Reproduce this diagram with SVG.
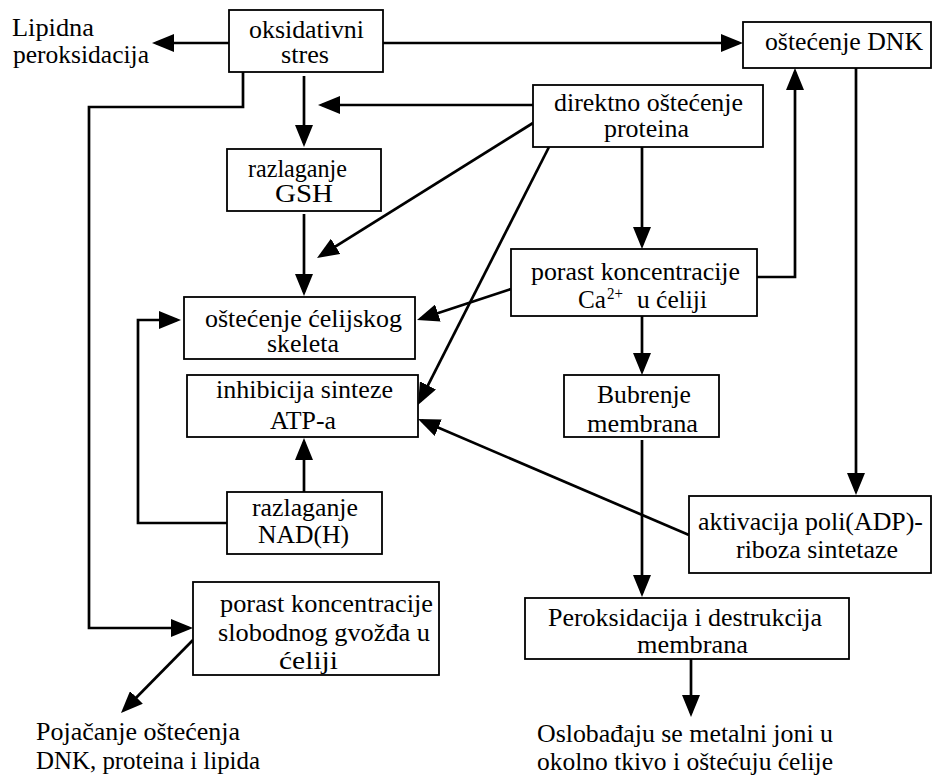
<svg xmlns="http://www.w3.org/2000/svg" width="932" height="776" viewBox="0 0 932 776">
<style>
.box{fill:#fff;stroke:#000;stroke-width:1.8}
.c{fill:none;stroke:#000;stroke-width:2.7;marker-end:url(#ah)}
text{font-family:"Liberation Serif","Times New Roman",serif;font-size:25px;fill:#000}
.b{font-size:26px}
.sup{font-size:17px}
</style>
<defs>
<marker id="ah" markerUnits="userSpaceOnUse" markerWidth="22" markerHeight="18" refX="18" refY="9" orient="auto">
<path d="M0,0 L22,9 L0,18 z" fill="#000"/>
</marker>
</defs>
<rect width="932" height="776" fill="#fff"/>
<g id="connectors">
<path class="c" d="M229,43 H156"/>
<path class="c" d="M383,43 H739"/>
<path class="c" d="M304,76 V143"/>
<path class="c" d="M533,105 H322"/>
<path class="c" d="M243,72 V107 H89 V628 H189"/>
<path class="c" d="M304,214 V292"/>
<path class="c" d="M533,123 L320.4,255.9"/>
<path class="c" d="M549,147 L419.8,401.4"/>
<path class="c" d="M642,147 V245"/>
<path class="c" d="M757,277 H795 V72"/>
<path class="c" d="M511,289 L420.8,318.7"/>
<path class="c" d="M642,316 V371"/>
<path class="c" d="M856,68 V491"/>
<path class="c" d="M642,440 V593"/>
<path class="c" d="M689,535 L421.7,420.6"/>
<path class="c" d="M304,492 V442"/>
<path class="c" d="M227,523 H138 V320 H177"/>
<path class="c" d="M193,640 L123.8,710.2"/>
<path class="c" d="M691,659 V713"/>
</g>
<g id="lipidna">
<text x="12" y="36" textLength="82" lengthAdjust="spacingAndGlyphs">Lipidna</text>
<text x="13" y="63" textLength="136" lengthAdjust="spacingAndGlyphs">peroksidacija</text>
</g>
<g id="oksidativni">
<rect class="box" x="229" y="10" width="154" height="62"/>
<text x="249" y="38" textLength="115" lengthAdjust="spacingAndGlyphs">oksidativni</text>
<text x="281" y="63" textLength="48" lengthAdjust="spacingAndGlyphs">stres</text>
</g>
<g id="dnk">
<rect class="box" x="743" y="22" width="188" height="46"/>
<text x="765" y="50" textLength="158" lengthAdjust="spacingAndGlyphs">oštećenje DNK</text>
</g>
<g id="direktno">
<rect class="box" x="533" y="85" width="230" height="62"/>
<text x="554" y="111" textLength="189" lengthAdjust="spacingAndGlyphs">direktno oštećenje</text>
<text x="604" y="137" textLength="85" lengthAdjust="spacingAndGlyphs">proteina</text>
</g>
<g id="gsh">
<rect class="box" x="227" y="149" width="154" height="62"/>
<text x="248" y="177" textLength="99" lengthAdjust="spacingAndGlyphs">razlaganje</text>
<text x="275" y="202" textLength="58" lengthAdjust="spacingAndGlyphs">GSH</text>
</g>
<g id="skelet">
<rect class="box" x="184" y="297" width="231" height="62"/>
<text x="205" y="327" textLength="197" lengthAdjust="spacingAndGlyphs">oštećenje ćelijskog</text>
<text x="267" y="352" textLength="72" lengthAdjust="spacingAndGlyphs">skeleta</text>
</g>
<g id="atp">
<rect class="box" x="187" y="375" width="231" height="62"/>
<text x="216" y="398" textLength="177" lengthAdjust="spacingAndGlyphs">inhibicija sinteze</text>
<text x="270" y="429" textLength="66" lengthAdjust="spacingAndGlyphs">ATP-a</text>
</g>
<g id="nad">
<rect class="box" x="227" y="492" width="155" height="62"/>
<text x="252" y="516" textLength="106" lengthAdjust="spacingAndGlyphs">razlaganje</text>
<text x="258" y="543" textLength="91" lengthAdjust="spacingAndGlyphs">NAD(H)</text>
</g>
<g id="ca">
<rect class="box" x="511" y="249" width="246" height="67"/>
<text x="531" y="280" textLength="209" lengthAdjust="spacingAndGlyphs">porast koncentracije</text>
<text x="578" y="308" textLength="28" lengthAdjust="spacingAndGlyphs">Ca</text>
<text class="sup" x="607" y="299" textLength="16" lengthAdjust="spacingAndGlyphs">2+</text>
<text x="637" y="308" textLength="70" lengthAdjust="spacingAndGlyphs">u ćeliji</text>
</g>
<g id="bubrenje">
<rect class="box" x="564" y="375" width="155" height="62"/>
<text x="597" y="403" textLength="94" lengthAdjust="spacingAndGlyphs">Bubrenje</text>
<text x="587" y="432" textLength="111" lengthAdjust="spacingAndGlyphs">membrana</text>
</g>
<g id="aktivacija">
<rect class="box" x="689" y="496" width="242" height="77"/>
<text x="698" y="530" textLength="225" lengthAdjust="spacingAndGlyphs">aktivacija poli(ADP)-</text>
<text x="736" y="558" textLength="162" lengthAdjust="spacingAndGlyphs">riboza sintetaze</text>
</g>
<g id="gvozdje">
<rect class="box" x="193" y="582" width="246" height="93"/>
<text class="b" x="220" y="612" textLength="213" lengthAdjust="spacingAndGlyphs">porast koncentracije</text>
<text class="b" x="218" y="641" textLength="212" lengthAdjust="spacingAndGlyphs">slobodnog gvožđa u</text>
<text class="b" x="279" y="669" textLength="59" lengthAdjust="spacingAndGlyphs">ćeliji</text>
</g>
<g id="peroksidacija">
<rect class="box" x="525" y="598" width="324" height="61"/>
<text class="b" x="548" y="626" textLength="274" lengthAdjust="spacingAndGlyphs">Peroksidacija i destrukcija</text>
<text class="b" x="637" y="653" textLength="111" lengthAdjust="spacingAndGlyphs">membrana</text>
</g>
<g id="pojacanje">
<text class="b" x="36" y="740" textLength="204" lengthAdjust="spacingAndGlyphs">Pojačanje oštećenja</text>
<text class="b" x="36" y="769" textLength="224" lengthAdjust="spacingAndGlyphs">DNK, proteina i lipida</text>
</g>
<g id="oslobadjaju">
<text class="b" x="537" y="742" textLength="296" lengthAdjust="spacingAndGlyphs">Oslobađaju se metalni joni u</text>
<text class="b" x="537" y="770" textLength="296" lengthAdjust="spacingAndGlyphs">okolno tkivo i oštećuju ćelije</text>
</g>
</svg>
